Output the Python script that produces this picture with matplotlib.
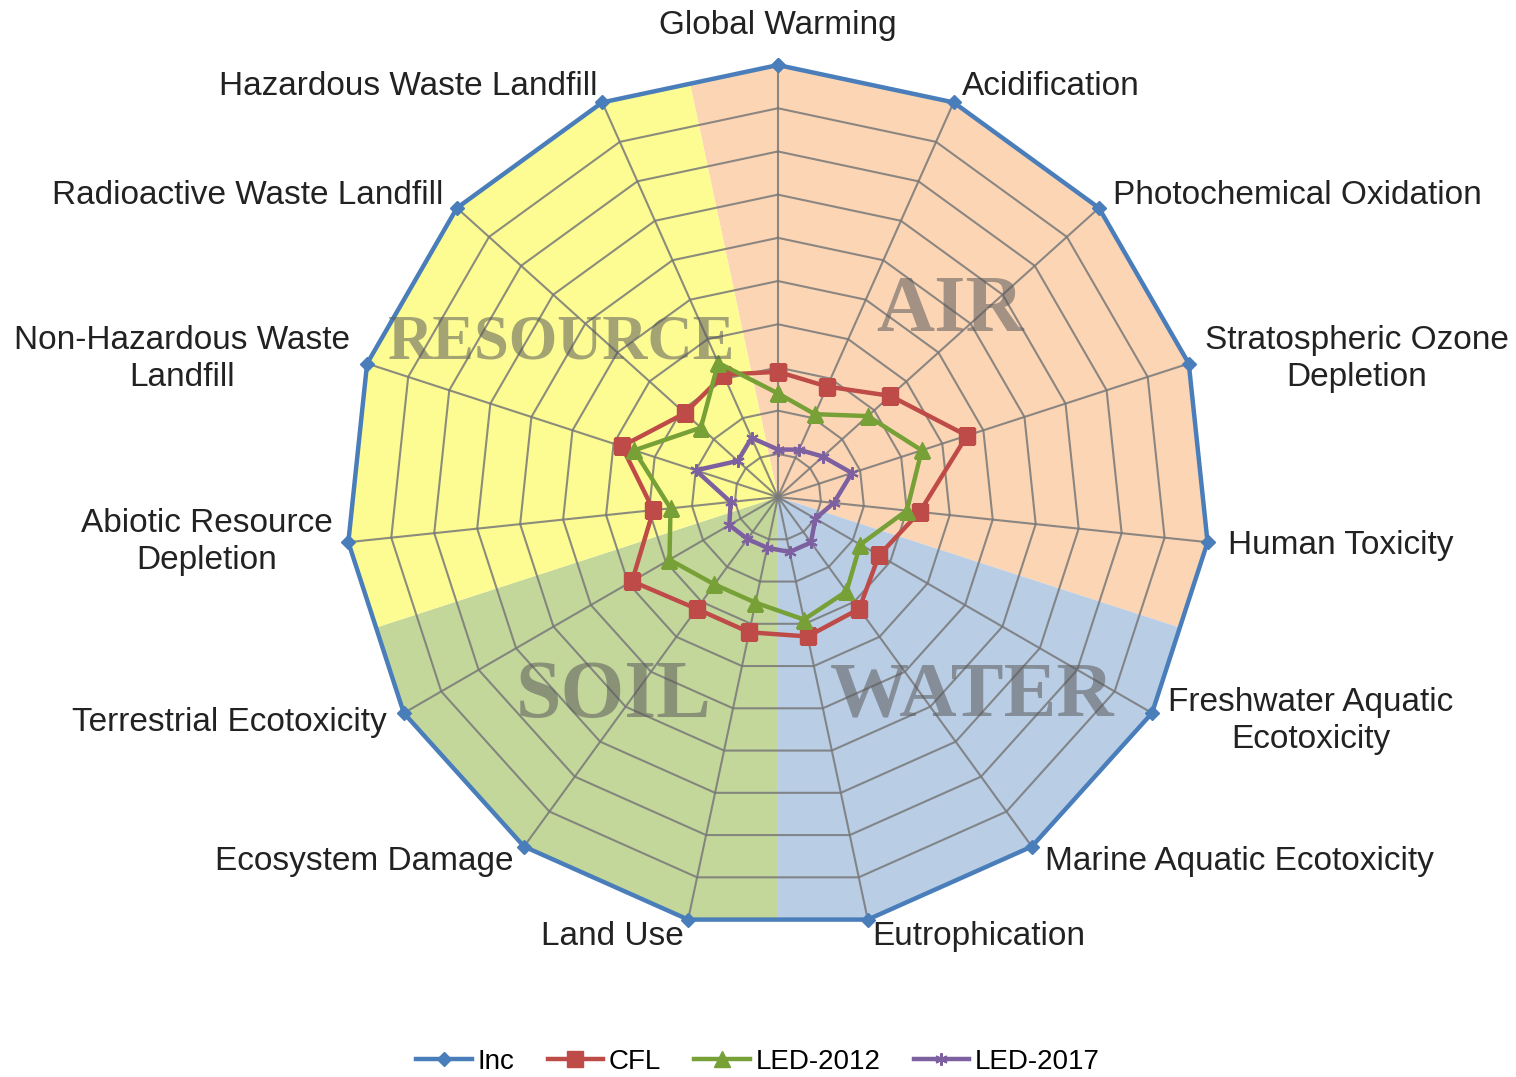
import numpy as np
import matplotlib
matplotlib.use('Agg')
import matplotlib.pyplot as plt

# impact categories, clockwise from the top
categories = ['Global Warming', 'Acidification', 'Photochemical Oxidation',
              'Stratospheric Ozone\nDepletion', 'Human Toxicity',
              'Freshwater Aquatic\nEcotoxicity', 'Marine Aquatic Ecotoxicity',
              'Eutrophication', 'Land Use', 'Ecosystem Damage',
              'Terrestrial Ecotoxicity', 'Abiotic Resource\nDepletion',
              'Non-Hazardous Waste\nLandfill', 'Radioactive Waste Landfill',
              'Hazardous Waste Landfill']

inc = [1.0] * 15
cfl = [0.29, 0.28, 0.35, 0.46, 0.33, 0.27, 0.32, 0.33, 0.32, 0.32, 0.39, 0.29, 0.38, 0.29, 0.31]
led2012 = [0.24, 0.21, 0.28, 0.35, 0.30, 0.22, 0.27, 0.29, 0.25, 0.25, 0.29, 0.25, 0.35, 0.24, 0.34]
led2017 = [0.11, 0.12, 0.14, 0.18, 0.13, 0.10, 0.13, 0.13, 0.12, 0.12, 0.13, 0.11, 0.20, 0.125, 0.15]

series_names = ['Inc', 'CFL', 'LED-2012', 'LED-2017']

# background sectors (degrees clockwise from top)
regions = ['AIR', 'WATER', 'SOIL', 'RESOURCE']
region_spans = [(-12, 108), (108, 180), (180, 252), (252, 348)]
region_colors = ['#fcd5b5', '#b9cde5', '#c4d79b', '#fdfc93']

n = len(categories)
step = 360 / n
ang_deg = np.arange(n) * step
theta = np.radians(ang_deg)
theta_c = np.append(theta, theta[0])


def closed(v):
    return np.append(v, v[0])


fig = plt.figure(figsize=(15.16, 10.77), dpi=100)
ax = fig.add_axes([0.2282, 0.1374, 0.5699, 0.8022], projection='polar')
ax.set_theta_zero_location('N')
ax.set_theta_direction(-1)
ax.set_ylim(0, 1)
ax.axis('off')

# coloured sectors, bounded by the outer 15-gon
r_mid = np.cos(np.radians(step / 2))
for (a1, a2), col in zip(region_spans, region_colors):
    inner = [a for a in np.arange(-n, 2 * n) * step if a1 < a < a2]
    th = [0, a1] + inner + [a2]
    rr = [0, r_mid] + [1.0] * len(inner) + [r_mid]
    ax.fill(np.radians(th), rr, color=col, lw=0, zorder=0)

# web grid
for r in np.arange(1, 10) / 10:
    ax.plot(theta_c, [r] * (n + 1), color='#787878', lw=1.5, alpha=0.85, zorder=1)
for t in theta:
    ax.plot([t, t], [0, 1], color='#787878', lw=1.5, alpha=0.85, zorder=1)

lines = []
lines += ax.plot(theta_c, closed(inc), color='#4a7ebb', lw=3.2, marker='D', ms=7,
                 zorder=5, clip_on=False)
lines += ax.plot(theta_c, closed(cfl), color='#be4b48', lw=3.2, marker='s', ms=11,
                 zorder=4)
lines += ax.plot(theta_c, closed(led2012), color='#77a037', lw=3.2, marker='^', ms=11,
                 zorder=4)
lines += ax.plot(theta_c, closed(led2017), color='#7d60a0', lw=3.2, marker=(6, 2, 0),
                 ms=9, mew=1.5, zorder=4)

# category labels
label_style = [
    ((0, 40), 'center'), ((8, 16), 'left'), ((14, 12), 'left'), ((16, 5), 'left'),
    ((20, -3), 'left'), ((16, -8), 'left'), ((13, -15), 'left'), ((5, -17), 'left'),
    ((-4, -17), 'right'), ((-11, -15), 'right'), ((-17, -9), 'right'),
    ((-16, 0), 'right'), ((-17, 5), 'right'), ((-14, 12), 'right'), ((-5, 16), 'right'),
]
for cat, t, (off, ha) in zip(categories, theta, label_style):
    ax.annotate(cat, xy=(t, 1), xytext=off, textcoords='offset pixels',
                ha=ha, va='center', multialignment='center',
                fontsize=24, family='Liberation Sans', color='#222222',
                linespacing=1.25, annotation_clip=False)

# region names
region_pos = [(42.9, 0.585, 58), (135.9, 0.645, 57), (219.4, 0.60, 59), (305.5, 0.614, 45)]
for name, (a, r, fs) in zip(regions, region_pos):
    ax.text(np.radians(a), r, name, ha='center', va='center', fontsize=fs,
            family='Liberation Serif', fontweight='bold', color='#5a5a5a',
            alpha=0.55, zorder=6)

fig.legend(lines, series_names, loc='center', bbox_to_anchor=(0.5, 0.014),
           ncol=4, frameon=False, handlelength=2.0,
           columnspacing=1.2, handletextpad=0.2,
           prop={'family': 'Liberation Sans', 'size': 20})

plt.savefig('out.png', dpi=100)
plt.close()
